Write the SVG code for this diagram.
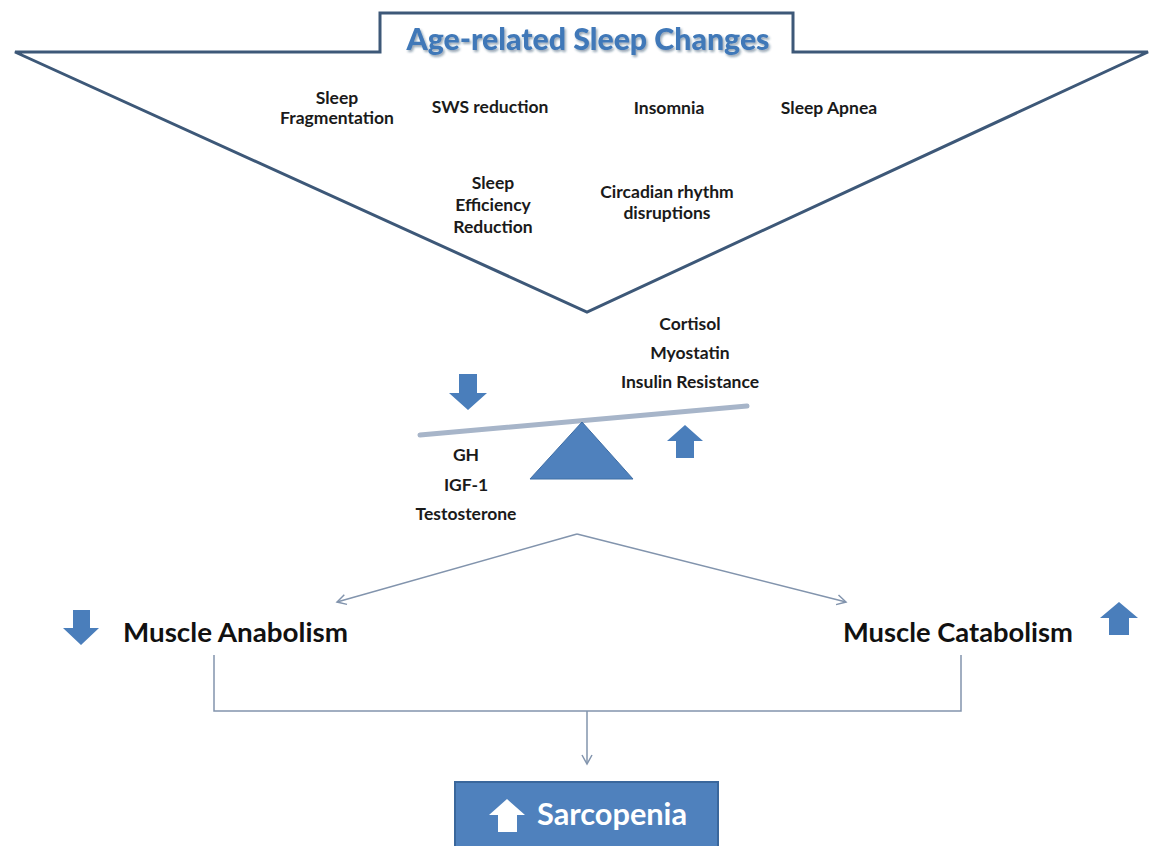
<svg xmlns="http://www.w3.org/2000/svg" width="1151" height="846" viewBox="0 0 1151 846">
  <defs>
    <style>
      .outline { fill: none; stroke: #3d5878; stroke-width: 3; stroke-linejoin: miter; }
      .lbl { font-family: Lato, "Liberation Sans", sans-serif; font-weight: bold; font-size: 17.5px; fill: #1a1a1a; text-anchor: middle; }
      .big { font-family: Lato, "Liberation Sans", sans-serif; font-weight: bold; font-size: 27px; fill: #111; }
      .title { font-family: Lato, "Liberation Sans", sans-serif; font-weight: 900; font-size: 31px; fill: #3f78b8; text-anchor: middle; }
      .blk { fill: #4a7ebb; }
      .conn { fill: none; stroke: #8294ad; stroke-width: 1.5; }
    </style>
    <filter id="shadow" x="-10%" y="-30%" width="120%" height="160%">
      <feDropShadow dx="1.5" dy="2" stdDeviation="1.2" flood-color="#1f3a5a" flood-opacity="0.45"/>
    </filter>
    <marker id="vhead" markerWidth="12" markerHeight="12" refX="10" refY="6" orient="auto" markerUnits="userSpaceOnUse">
      <path d="M1,1 L10,6 L1,11" fill="none" stroke="#8294ad" stroke-width="1.5"/>
    </marker>
  </defs>
  <rect width="1151" height="846" fill="#ffffff"/>

  <g id="sleep-changes">
    <path class="outline" d="M15,52 H380 V13 H793 V52 H1148 L587,312 Z"/>
    <text class="title" x="588" y="50" filter="url(#shadow)" textLength="363" lengthAdjust="spacingAndGlyphs">Age-related Sleep Changes</text>
    <text class="lbl" x="337" y="104">Sleep</text>
    <text class="lbl" x="337" y="124">Fragmentation</text>
    <text class="lbl" x="490" y="113">SWS reduction</text>
    <text class="lbl" x="669" y="114">Insomnia</text>
    <text class="lbl" x="829" y="114">Sleep Apnea</text>
    <text class="lbl" x="493" y="189">Sleep</text>
    <text class="lbl" x="493" y="211">Efficiency</text>
    <text class="lbl" x="493" y="233">Reduction</text>
    <text class="lbl" x="667" y="198">Circadian rhythm</text>
    <text class="lbl" x="667" y="219">disruptions</text>
  </g>

  <g id="balance">
    <text class="lbl" x="690" y="330">Cortisol</text>
    <text class="lbl" x="690" y="359">Myostatin</text>
    <text class="lbl" x="690" y="388">Insulin Resistance</text>
    <polygon class="blk" points="459,374 477,374 477,393 487,393 468,410 449,393 459,393"/>
    <line x1="420" y1="435" x2="747" y2="406" stroke="#a7b5c9" stroke-width="5" stroke-linecap="round"/>
    <polygon points="582,422 530,479 633,479" fill="#4f81bd" stroke="#3f6ea5" stroke-width="1"/>
    <polygon class="blk" points="685,425 703,441 694,441 694,458 676,458 676,441 667,441"/>
    <text class="lbl" x="466" y="461">GH</text>
    <text class="lbl" x="466" y="491">IGF-1</text>
    <text class="lbl" x="466" y="520">Testosterone</text>
  </g>

  <g id="anabolism">
    <polygon class="blk" points="73,610 90,610 90,628 99,628 81,645 63,628 73,628"/>
    <text class="big" x="123" y="642" textLength="225" lengthAdjust="spacingAndGlyphs">Muscle Anabolism</text>
  </g>

  <g id="catabolism">
    <text class="big" x="843" y="642" textLength="230" lengthAdjust="spacingAndGlyphs">Muscle Catabolism</text>
    <polygon class="blk" points="1119,602 1138,618 1129,618 1129,635 1109,635 1109,618 1100,618"/>
  </g>

  <g id="sarcopenia">
    <rect x="455" y="782" width="263" height="66" fill="#4f81bd" stroke="#3a679c" stroke-width="2"/>
    <polygon points="507,799 525,815 517,815 517,832 498,832 498,815 489,815" fill="#ffffff"/>
    <text x="537" y="825" font-family="Lato, 'Liberation Sans', sans-serif" font-weight="bold" font-size="31" fill="#ffffff" textLength="150" lengthAdjust="spacingAndGlyphs">Sarcopenia</text>
  </g>

  <g id="connectors">
    <path class="conn" d="M577,534 L337,602" marker-end="url(#vhead)"/>
    <path class="conn" d="M577,534 L846,602" marker-end="url(#vhead)"/>
    <path class="conn" d="M214,655 V711 H961 V655"/>
    <path class="conn" d="M587,711 V764" marker-end="url(#vhead)"/>
  </g>
</svg>
